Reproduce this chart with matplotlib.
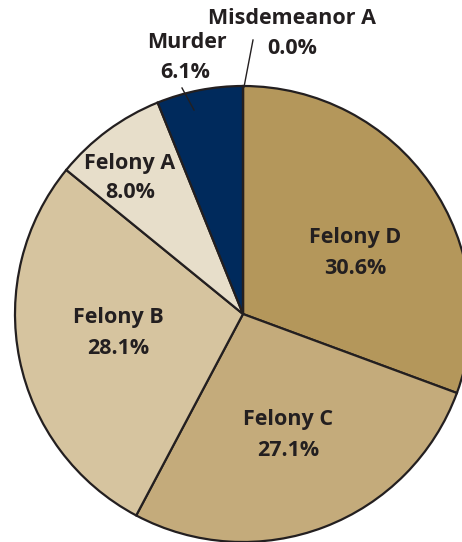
import matplotlib.pyplot as plt

categories = ["Felony D", "Felony C", "Felony B", "Felony A", "Murder", "Misdemeanor A"]
shares = [30.6, 27.1, 28.1, 8.0, 6.1, 0.0]
colors = ["#B4975B", "#C4AB7B", "#D6C49F", "#E7DECA", "#002A5C", "#FFFFFF"]
ink = "#231F20"

fig = plt.figure(figsize=(4.62, 5.42), dpi=100)
ax = fig.add_axes([0, 0, 1, 1])

cx, cy, r = 243, 542 - 314, 228
ax.pie(shares, colors=colors, startangle=90, counterclock=False,
       center=(cx, cy), radius=r, frame=True,
       wedgeprops=dict(edgecolor=ink, linewidth=1.6))
ax.set_xlim(0, 462)
ax.set_ylim(0, 542)
ax.set_aspect("equal")
ax.axis("off")

font = dict(family="Open Sans", fontweight="bold", fontsize=15.5, color=ink,
            ha="center", va="center")

# name / value positions in pixels from top-left: (x_name, y_name, x_val, y_val)
label_pos = {
    "Felony D": (355, 238, 355, 268),
    "Felony C": (288, 419, 288, 450),
    "Felony B": (118, 318, 118, 349),
    "Felony A": (130, 163, 130, 193),
    "Murder": (187, 43, 185, 73),
    "Misdemeanor A": (292, 18, 292, 49),
}
for name, val in zip(categories, shares):
    xn, yn, xv, yv = label_pos[name]
    ax.text(xn, 542 - yn, name, **font)
    ax.text(xv, 542 - yv, f"{val:.1f}%", **font)

# leader lines
ax.plot([182, 194], [542 - 88, 542 - 110], color=ink, lw=1)
ax.plot([253, 244], [542 - 40, 542 - 87], color=ink, lw=1)

fig.savefig("out.png", dpi=100)
